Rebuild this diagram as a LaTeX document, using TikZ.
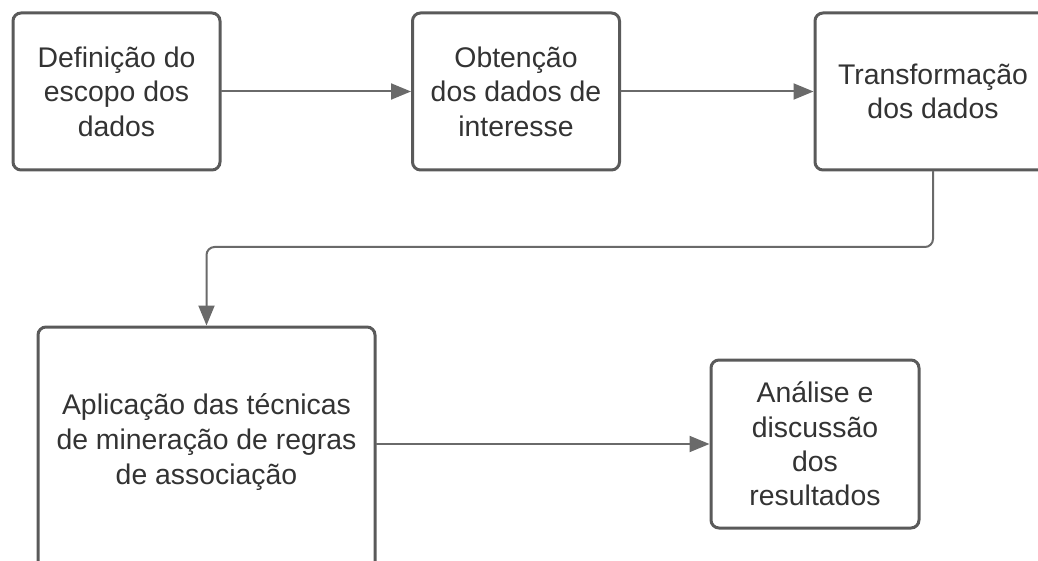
\documentclass[tikz,border=0pt]{standalone}
\usepackage{fontspec}
\setmainfont{Liberation Sans}
\usepackage{xcolor}
\usepackage{tikz}
\usetikzlibrary{arrows.meta, calc}
\definecolor{bordaCinza}{HTML}{5A5A5A}
\definecolor{linhaCinza}{HTML}{6A6A6A}
\definecolor{textoCinza}{HTML}{333333}
\tikzset{
	etapa/.style={draw=bordaCinza, line width=1.5pt, rounded corners=4pt, fill=white,
		align=center, text=textoCinza, font=\fontsize{14.2}{17.2}\selectfont, inner sep=0pt},
	seta/.style={draw=linhaCinza, line width=1pt, -{Triangle[length=10pt, width=8pt]}}
}

\begin{document}
\begin{tikzpicture}[x=0.5pt, y=-0.5pt, line cap=round]

	\useasboundingbox (0,0) rectangle (1038,561);
	\clip (0,0) rectangle (1038,561);

	\node[etapa, minimum width=103.5pt, minimum height=78.5pt] (escopo) at (116.5,91.5) {Definição do\\escopo dos\\dados};
	\node[etapa, minimum width=103.5pt, minimum height=78.5pt] (obtencao) at (516,91.5) {Obtenção\\dos dados de\\interesse};
	\node[etapa, minimum width=118pt, minimum height=78.5pt] (transf) at (933,91.5) {Transformação\\dos dados};

	% caixa grande, cortada na borda inferior
	\node[etapa, minimum width=168.5pt, minimum height=130pt] (regras) at (206.5,457) {};
	\node[align=center, text=textoCinza, font=\fontsize{14.2}{17.5}\selectfont, inner sep=0pt] (regrastxt) at (206.5,442) {Aplicação das técnicas\\de mineração de regras\\de associação};

	\node[etapa, minimum width=104pt, minimum height=84pt] (analise) at (815,444) {Análise e\\discussão\\dos\\resultados};

	\coordinate (dobra) at (206.5,247);

	\draw[seta] (escopo) -- (obtencao);
	\draw[seta] (obtencao) -- (transf);
	\draw[seta, rounded corners=4pt] (transf.south) |- (dobra) -- (regras.north);
	\draw[seta] (analise.west -| regras.east) -- (analise.west);

\end{tikzpicture}
\end{document}
